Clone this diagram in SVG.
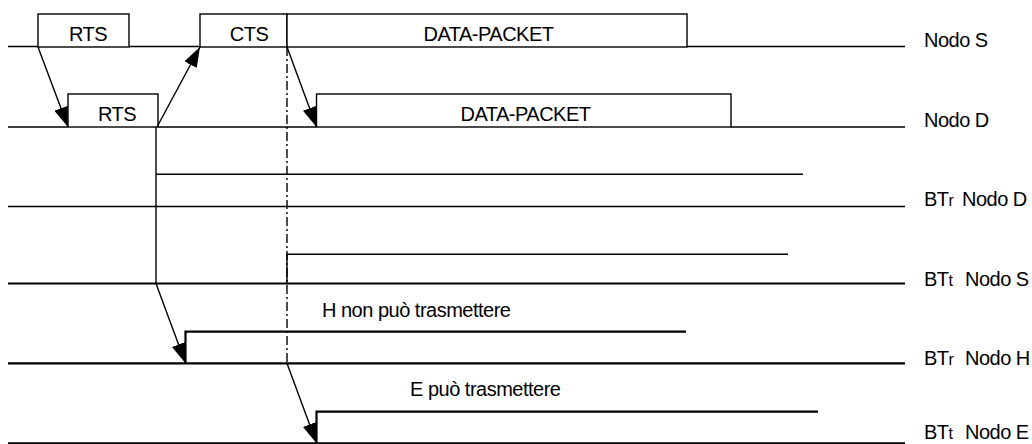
<svg xmlns="http://www.w3.org/2000/svg" width="1032" height="444" viewBox="0 0 1032 444">
  <style>
    text { font-family: "Liberation Sans", Arial, sans-serif; font-size: 20px; letter-spacing: -0.5px; fill: #000; }
    .mid { text-anchor: middle; }
    .sub { font-size: 16px; }
    .box { fill: #fff; stroke: #000; stroke-width: 1.4; }
    .ln { fill: none; stroke: #000; stroke-width: 1.4; }
    .thick { fill: none; stroke: #000; stroke-width: 2.2; }
    .dd { fill: none; stroke: #000; stroke-width: 1.4; stroke-dasharray: 9 3 2 3; }
    .arr { fill: none; stroke: #000; stroke-width: 1.4; marker-end: url(#head); }
  </style>
  <defs>
    <marker id="head" markerUnits="userSpaceOnUse" markerWidth="20" markerHeight="14" refX="20" refY="7" orient="auto">
      <path d="M0,0 L20,7 L0,14 z" fill="#000"/>
    </marker>
  </defs>

  <!-- time lines of each station -->
  <g id="timelines">
    <path class="ln" d="M8,46.5 H38 M129,46.5 H200 M687,46.5 H905"/>
    <path class="ln" d="M8,127 H68 M158,127 H316.5 M731,127 H905"/>
    <path class="ln" d="M8,206.5 H905"/>
    <path class="thick" d="M8,283.5 H905"/>
    <path class="thick" d="M8,363.3 H905"/>
    <path class="thick" d="M8,443.3 H905"/>
  </g>

  <!-- frames on station S -->
  <g id="s-rts">
    <rect class="box" x="38" y="14" width="91" height="33"/>
    <text class="mid" x="88" y="41">RTS</text>
  </g>
  <g id="s-cts">
    <rect class="box" x="200" y="14" width="87" height="33"/>
    <text class="mid" x="249" y="41">CTS</text>
  </g>
  <g id="s-data">
    <rect class="box" x="287" y="14" width="400" height="33"/>
    <text class="mid" x="488.5" y="41">DATA-PACKET</text>
  </g>

  <!-- frames on station D -->
  <g id="d-rts">
    <rect class="box" x="68" y="94" width="90" height="33"/>
    <text class="mid" x="117" y="121">RTS</text>
  </g>
  <g id="d-data">
    <rect class="box" x="316.5" y="94" width="414.5" height="33"/>
    <text class="mid" x="525.5" y="121">DATA-PACKET</text>
  </g>

  <!-- busy tone pulses -->
  <g id="btr-d-pulse">
    <path class="ln" d="M156,127 V283.5 M156,174.3 H803"/>
  </g>
  <g id="btt-s-pulse">
    <path class="ln" d="M287,283.5 V254.3 H788"/>
  </g>
  <g id="btr-h-pulse">
    <path class="thick" d="M185.5,363.3 V331.7 H686"/>
    <text x="322" y="317">H non può trasmettere</text>
  </g>
  <g id="btt-e-pulse">
    <path class="thick" d="M316.5,443.3 V411.7 H818"/>
    <text x="410" y="396">E può trasmettere</text>
  </g>

  <!-- propagation arrows and the end-of-CTS marker -->
  <g id="connectors">
    <path class="dd" d="M287,47 V363"/>
    <path class="arr" d="M38,47 L68,127"/>
    <path class="arr" d="M157,127 L200,47"/>
    <path class="arr" d="M287,47 L316.5,127"/>
    <path class="arr" d="M156,283.5 L185.5,363.3"/>
    <path class="arr" d="M287,363.3 L316.5,443.3"/>
  </g>

  <!-- station labels -->
  <g id="labels">
    <text x="924" y="47">Nodo S</text>
    <text x="924" y="127">Nodo D</text>
    <text x="924" y="206">BT<tspan class="sub">r</tspan><tspan x="962">Nodo D</tspan></text>
    <text x="924" y="286">BT<tspan class="sub">t</tspan><tspan x="965">Nodo S</tspan></text>
    <text x="924" y="365">BT<tspan class="sub">r</tspan><tspan x="965">Nodo H</tspan></text>
    <text x="924" y="439">BT<tspan class="sub">t</tspan><tspan x="965">Nodo E</tspan></text>
  </g>
</svg>
